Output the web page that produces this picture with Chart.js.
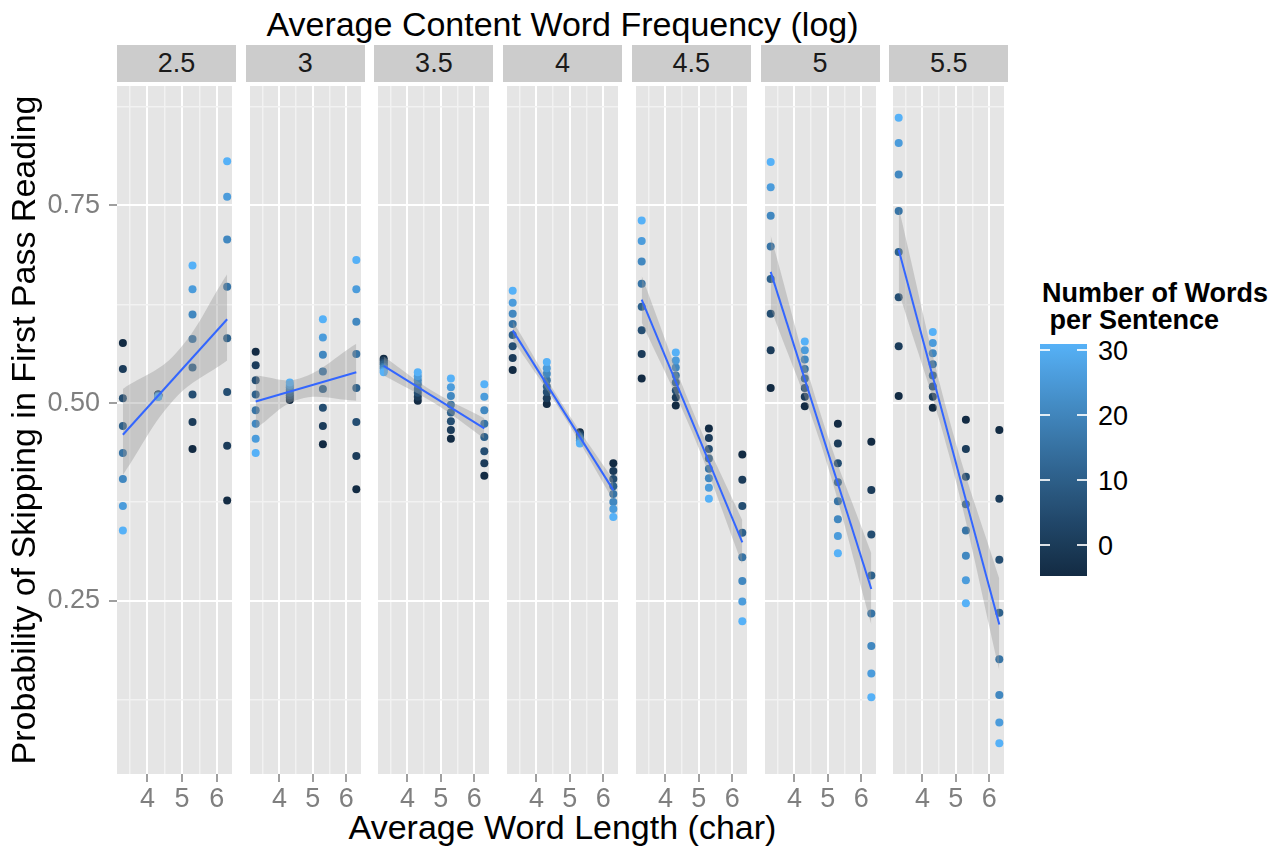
<!DOCTYPE html>
<html>
<head>
<meta charset="utf-8">
<title>Skipping probability by word length</title>
<script src="https://cdn.jsdelivr.net/npm/chart.js@4.4.1/dist/chart.umd.min.js"></script>
<style>
  html, body { margin: 0; padding: 0; background: #fff; }
  #wrap { position: relative; width: 1274px; height: 849px; overflow: hidden;
          font-family: "Liberation Sans", Arial, sans-serif; }
  .abs { position: absolute; }
  .strip { position: absolute; top: 45px; height: 37px; background: #CCCCCC; color: #1A1A1A;
           font-size: 27px; line-height: 37px; text-align: center; }
  .title { position: absolute; font-size: 34px; line-height: 34px; color: #000; white-space: nowrap; }
  .leg-title { position: absolute; left: 1042px; top: 280px; font-size: 27px; font-weight: bold;
               line-height: 27px; white-space: pre; color: #000; }
  .leg-lab { position: absolute; left: 1098px; font-size: 27px; line-height: 27px; color: #000; }
  .leg-tick { position: absolute; width: 10px; height: 1.5px; background: rgba(255,255,255,0.85); }
</style>
</head>
<body>
<div id="wrap">
  <div class="title" style="left:0;width:1125px;text-align:center;top:7px;">Average Content Word Frequency (log)</div>
  <div class="title" style="left:0;width:1125px;text-align:center;top:810px;">Average Word Length (char)</div>
  <div class="leg-title">Number of Words
 per Sentence</div>
  <div id="colorbar" class="abs" style="left:1040px;top:344px;width:47px;height:232px;"></div>
</div>
<script>
/* ── data ── */
var facets = ["2.5", "3", "3.5", "4", "4.5", "5", "5.5"];
var colX = [3.29, 4.31, 5.30, 6.30];                       // word length bins
var words = [-4.8, 0.3, 5.4, 10.5, 15.6, 20.7, 25.8, 30.9];   // words per sentence

// skipping probability: one row per word-length bin, values in the order of `words`
var skip25 = [
  [0.576, 0.543, 0.506, 0.471, 0.437, 0.404, 0.370, 0.339],
  [0.511, 0.511, 0.510, 0.510, 0.509, 0.509, 0.508, 0.508],
  [0.442, 0.476, 0.511, 0.545, 0.581, 0.612, 0.644, 0.674],
  [0.377, 0.446, 0.514, 0.582, 0.647, 0.707, 0.761, 0.806]
];
var skip30 = [
  [0.565, 0.548, 0.529, 0.511, 0.491, 0.474, 0.455, 0.437],
  [0.504, 0.507, 0.510, 0.513, 0.517, 0.520, 0.523, 0.526],
  [0.448, 0.471, 0.494, 0.518, 0.540, 0.561, 0.583, 0.606],
  [0.391, 0.433, 0.476, 0.519, 0.562, 0.603, 0.644, 0.681]
];
var skip35 = [
  [0.556, 0.554, 0.551, 0.549, 0.546, 0.544, 0.541, 0.539],
  [0.503, 0.508, 0.513, 0.518, 0.524, 0.529, 0.534, 0.539],
  [0.455, 0.466, 0.477, 0.488, 0.498, 0.509, 0.520, 0.531],
  [0.408, 0.424, 0.439, 0.457, 0.474, 0.491, 0.508, 0.524]
];
var skip40 = [
  [0.542, 0.557, 0.572, 0.586, 0.600, 0.613, 0.627, 0.642],
  [0.499, 0.506, 0.514, 0.521, 0.529, 0.537, 0.544, 0.552],
  [0.463, 0.461, 0.459, 0.457, 0.455, 0.453, 0.451, 0.449],
  [0.424, 0.414, 0.404, 0.395, 0.385, 0.375, 0.366, 0.356]
];
var skip45 = [
  [0.531, 0.562, 0.592, 0.622, 0.651, 0.679, 0.705, 0.731],
  [0.497, 0.507, 0.516, 0.526, 0.535, 0.545, 0.554, 0.564],
  [0.468, 0.456, 0.442, 0.430, 0.417, 0.405, 0.393, 0.379],
  [0.435, 0.403, 0.370, 0.336, 0.305, 0.275, 0.249, 0.224]
];
var skip50 = [
  [0.519, 0.567, 0.613, 0.657, 0.698, 0.737, 0.773, 0.805],
  [0.496, 0.508, 0.519, 0.531, 0.543, 0.555, 0.567, 0.578],
  [0.474, 0.449, 0.424, 0.400, 0.376, 0.353, 0.332, 0.310],
  [0.451, 0.390, 0.334, 0.282, 0.234, 0.193, 0.158, 0.128]
];
var skip55 = [
  [0.509, 0.572, 0.634, 0.691, 0.743, 0.789, 0.829, 0.861],
  [0.494, 0.508, 0.521, 0.535, 0.549, 0.563, 0.576, 0.590],
  [0.479, 0.442, 0.407, 0.372, 0.339, 0.307, 0.276, 0.247],
  [0.466, 0.379, 0.302, 0.235, 0.176, 0.131, 0.096, 0.070]
];
var skipByFacet = [skip25, skip30, skip35, skip40, skip45, skip50, skip55];

// linear fit per facet (value at first and last bin) and its confidence band
var fitStart = [0.460, 0.502, 0.547, 0.592, 0.631, 0.666, 0.694];
var fitEnd = [0.606, 0.539, 0.468, 0.390, 0.324, 0.265, 0.220];
var bandMidX = [4.8, 4.6, 4.8, 4.8, 4.8, 4.8, 4.8];
var bandLo = [[0.409, 0.506, 0.554], [0.468, 0.505, 0.503], [0.535, 0.500, 0.455], [0.580, 0.485, 0.377],
              [0.602, 0.463, 0.296], [0.620, 0.447, 0.220], [0.641, 0.434, 0.162]];
var bandHi = [[0.518, 0.562, 0.663], [0.535, 0.531, 0.575], [0.559, 0.514, 0.481], [0.604, 0.497, 0.403],
              [0.661, 0.492, 0.352], [0.712, 0.484, 0.310], [0.747, 0.480, 0.278]];

var xTicks = [3.5, 4, 4.5, 5, 5.5, 6];
var yTicks = [0.125, 0.25, 0.375, 0.5, 0.625, 0.75, 0.875];
var legendTicks = [0, 10, 20, 30];
var wordsMin = -4.8, wordsMax = 30.9;

/* ── layout ── */
var FONT = '"Liberation Sans", Arial, sans-serif';
var PANEL_LEFT = 117, PANEL_PITCH = 128.7, PANEL_W = 119;
var PANEL_TOP = 82, PANEL_H = 692, XAXIS_H = 48, YAXIS_W = 117;

Chart.defaults.font.family = FONT;

/* ggplot-style gradient: #132B43 -> #56B1F7 interpolated in Lab */
function hexRgb(h) { return [1, 3, 5].map(function (i) { return parseInt(h.substr(i, 2), 16); }); }
function rgbToLab(rgb) {
  var c = rgb.map(function (v) { v /= 255; return v <= 0.04045 ? v / 12.92 : Math.pow((v + 0.055) / 1.055, 2.4); });
  var X = (c[0] * 0.4124 + c[1] * 0.3576 + c[2] * 0.1805) / 0.95047;
  var Y = c[0] * 0.2126 + c[1] * 0.7152 + c[2] * 0.0722;
  var Z = (c[0] * 0.0193 + c[1] * 0.1192 + c[2] * 0.9505) / 1.08883;
  function f(t) { return t > 0.008856 ? Math.cbrt(t) : 7.787 * t + 16 / 116; }
  return [116 * f(Y) - 16, 500 * (f(X) - f(Y)), 200 * (f(Y) - f(Z))];
}
function labToRgb(lab) {
  var fy = (lab[0] + 16) / 116, fx = fy + lab[1] / 500, fz = fy - lab[2] / 200;
  function fi(t) { var t3 = t * t * t; return t3 > 0.008856 ? t3 : (t - 16 / 116) / 7.787; }
  var X = fi(fx) * 0.95047, Y = fi(fy), Z = fi(fz) * 1.08883;
  var lin = [3.2406 * X - 1.5372 * Y - 0.4986 * Z, -0.9689 * X + 1.8758 * Y + 0.0415 * Z, 0.0557 * X - 0.2040 * Y + 1.0570 * Z];
  return lin.map(function (v) {
    v = v <= 0.0031308 ? 12.92 * v : 1.055 * Math.pow(v, 1 / 2.4) - 0.055;
    return Math.round(Math.max(0, Math.min(1, v)) * 255);
  });
}
var LAB_LOW = rgbToLab(hexRgb("#132B43")), LAB_HIGH = rgbToLab(hexRgb("#56B1F7"));
function wordColour(v) {
  var t = (v - wordsMin) / (wordsMax - wordsMin);
  var rgb = labToRgb([0, 1, 2].map(function (k) { return LAB_LOW[k] + t * (LAB_HIGH[k] - LAB_LOW[k]); }));
  return "rgb(" + rgb.join(",") + ")";
}

var panelBg = {
  id: "panelBg",
  beforeDraw: function (chart) {
    var a = chart.chartArea, c = chart.ctx;
    c.save();
    c.fillStyle = "#E5E5E5";
    c.fillRect(a.left, a.top, a.right - a.left, a.bottom - a.top);
    c.restore();
  }
};

function isMajorX(v) { return Math.abs(v - Math.round(v)) < 1e-9; }
function isMajorY(v) { return Math.abs(v * 4 - Math.round(v * 4)) < 1e-9; }

var wrap = document.getElementById("wrap");

function makePanel(i) {
  var first = i === 0;
  var left = PANEL_LEFT + i * PANEL_PITCH;

  /* strip label */
  var strip = document.createElement("div");
  strip.className = "strip";
  strip.style.left = left + "px";
  strip.style.width = PANEL_W + "px";
  strip.textContent = facets[i];
  wrap.appendChild(strip);

  var cv = document.createElement("canvas");
  var cw = first ? YAXIS_W + PANEL_W : PANEL_W;
  var ch = PANEL_H + XAXIS_H;
  cv.width = cw; cv.height = ch;
  cv.style.cssText = "position:absolute;left:" + (first ? left - YAXIS_W : left) + "px;top:" + PANEL_TOP +
    "px;width:" + cw + "px;height:" + ch + "px;";
  wrap.appendChild(cv);

  var skip = skipByFacet[i];
  var pts = [], cols = [];
  colX.forEach(function (x, c) {
    words.forEach(function (w, k) {
      pts.push({ x: x, y: skip[c][k] });
      cols.push(wordColour(w));
    });
  });
  var bx = [colX[0], bandMidX[i], colX[3]];
  var hi = bx.map(function (x, k) { return { x: x, y: bandHi[i][k] }; });
  var lo = bx.map(function (x, k) { return { x: x, y: bandLo[i][k] }; });

  new Chart(cv, {
    type: "scatter",
    data: {
      datasets: [
        { data: [{ x: colX[0], y: fitStart[i] }, { x: colX[3], y: fitEnd[i] }], showLine: true,
          borderColor: "#3366FF", borderWidth: 2, pointRadius: 0, order: 0 },
        { data: hi, showLine: true, fill: "+1", backgroundColor: "rgba(153,153,153,0.4)",
          borderColor: "rgba(0,0,0,0)", borderWidth: 1, pointRadius: 0, tension: 0.4, order: 1 },
        { data: lo, showLine: true, fill: false, borderColor: "rgba(0,0,0,0)", borderWidth: 1,
          pointRadius: 0, tension: 0.4, order: 1 },
        { data: pts, pointBackgroundColor: cols, pointBorderColor: cols, pointBorderWidth: 0,
          pointRadius: 4, order: 2 }
      ]
    },
    options: {
      responsive: false,
      animation: false,
      events: [],
      layout: { padding: 0 },
      plugins: { legend: { display: false }, tooltip: { enabled: false } },
      scales: {
        x: {
          type: "linear", min: 3.12, max: 6.44,
          afterBuildTicks: function (s) { s.ticks = xTicks.map(function (v) { return { value: v }; }); },
          afterFit: function (s) { s.height = XAXIS_H; s.paddingLeft = 0; s.paddingRight = 0; },
          border: { display: false },
          grid: {
            color: function (ctx) { return isMajorX(ctx.tick.value) ? "#FFFFFF" : "#F2F2F2"; },
            lineWidth: function (ctx) { return isMajorX(ctx.tick.value) ? 2 : 1.5; },
            tickColor: function (ctx) { return isMajorX(ctx.tick.value) ? "#7F7F7F" : "rgba(0,0,0,0)"; },
            tickLength: 8, tickWidth: 1.5
          },
          ticks: {
            autoSkip: false, maxRotation: 0, padding: 1, color: "#7F7F7F", font: { size: 27 },
            callback: function (v) { return isMajorX(v) ? String(v) : ""; }
          }
        },
        y: {
          type: "linear", min: 0.031, max: 0.901,
          afterBuildTicks: function (s) { s.ticks = yTicks.map(function (v) { return { value: v }; }); },
          afterFit: function (s) { s.width = first ? YAXIS_W : 0; s.paddingTop = 0; s.paddingBottom = 0; },
          border: { display: false },
          grid: {
            color: function (ctx) { return isMajorY(ctx.tick.value) ? "#FFFFFF" : "#F2F2F2"; },
            lineWidth: function (ctx) { return isMajorY(ctx.tick.value) ? 2 : 1.5; },
            tickColor: function (ctx) { return isMajorY(ctx.tick.value) ? "#7F7F7F" : "rgba(0,0,0,0)"; },
            drawTicks: first, tickLength: 8, tickWidth: 1.5
          },
          ticks: {
            display: first, autoSkip: false, padding: 9, color: "#7F7F7F", font: { size: 27 },
            callback: function (v) { return isMajorY(v) ? v.toFixed(2) : ""; }
          },
          title: {
            display: first, text: "Probability of Skipping in First Pass Reading", color: "#000",
            font: { size: 34 }, padding: { top: 5, bottom: 0 }
          }
        }
      }
    },
    plugins: [panelBg]
  });
}

for (var i = 0; i < facets.length; i++) makePanel(i);

/* ── colour bar legend ── */
(function () {
  var bar = document.getElementById("colorbar");
  var stops = [];
  for (var s = 0; s <= 20; s++) {
    var v = wordsMin + (s / 20) * (wordsMax - wordsMin);
    stops.push(wordColour(v) + " " + (s * 5) + "%");
  }
  bar.style.background = "linear-gradient(to top, " + stops.join(", ") + ")";
  var top = 344, h = 232;
  legendTicks.forEach(function (v) {
    var y = top + (wordsMax - v) / (wordsMax - wordsMin) * h;
    [1040, 1077].forEach(function (x) {
      var t = document.createElement("div");
      t.className = "leg-tick";
      t.style.left = x + "px";
      t.style.top = (y - 0.75) + "px";
      wrap.appendChild(t);
    });
    var lab = document.createElement("div");
    lab.className = "leg-lab";
    lab.style.top = (y - 11.5) + "px";
    lab.textContent = String(v);
    wrap.appendChild(lab);
  });
})();
</script>
</body>
</html>
